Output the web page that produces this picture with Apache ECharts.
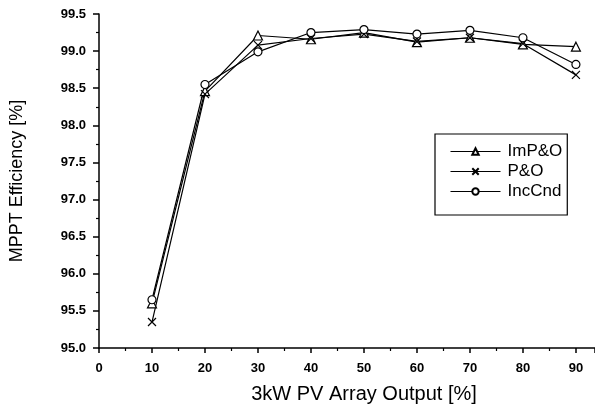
<!DOCTYPE html>
<html><head><meta charset="utf-8">
<script src="https://cdn.jsdelivr.net/npm/echarts@6/dist/echarts.min.js"></script>
<style>html,body{margin:0;padding:0;background:#fff}#c{width:595px;height:409px}</style>
</head><body><div id="c"></div>
<script>
const xValues = [10, 20, 30, 40, 50, 60, 70, 80, 90];
const impo = [95.60, 98.46, 99.21, 99.16, 99.25, 99.12, 99.18, 99.09, 99.06];
const po = [95.35, 98.42, 99.08, 99.17, 99.23, 99.13, 99.18, 99.10, 98.68];
const inccnd = [95.65, 98.55, 98.99, 99.25, 99.29, 99.23, 99.28, 99.18, 98.82];
const seriesNames = ['ImP&O', 'P&O', 'IncCnd'];
const crossPath = 'path://M0,0L10,10M10,0L0,10';

function pts(arr){ return xValues.map((x,i)=>[x, arr[i]]); }
const font = 'Liberation Sans, Arial, sans-serif';
const chart = echarts.init(document.getElementById('c'), null, {renderer:'canvas'});
function mk(name, data, symbol, size){
  return {name, type:'line', data:pts(data), symbol, symbolSize:size,
    lineStyle:{color:'#000', width:1.2}, itemStyle:{color:'#fff', borderColor:'#000', borderWidth:1.2},
    emphasis:{disabled:true}, animation:false, z: 3};
}
chart.setOption({
  animation:false,
  backgroundColor:'#fff',
  grid:{left:96, right:0, top:14, bottom:61},
  legend:{
    orient:'vertical', left:435, top:134,
    padding:[9,5,15,15], itemGap:3, itemWidth:50, itemHeight:8,
    borderColor:'#000', borderWidth:1.2,
    lineStyle:{width:1},
    textStyle:{fontFamily:font, fontSize:17, color:'#000', padding:[0,0,0,2]},
    data:seriesNames
  },
  xAxis:{type:'value', min:0, max:93.6, interval:10,
    axisLine:{lineStyle:{color:'#000', width:1.5}},
    axisTick:{show:true, inside:false, length:5, lineStyle:{color:'#000', width:1.5}},
    minorTick:{show:true, splitNumber:2, length:3, lineStyle:{color:'#000', width:1.2}},
    splitLine:{show:false},
    axisLabel:{color:'#000', fontFamily:font, fontSize:13, fontWeight:'bold', margin:14, showMaxLabel:false},
    name:'3kW PV Array Output [%]', nameLocation:'middle', nameGap:36,
    nameTextStyle:{color:'#000', fontFamily:font, fontSize:20, padding:[0,0,0,34]}
  },
  yAxis:{type:'value', min:95.0, max:99.5, interval:0.5,
    axisLine:{show:true, lineStyle:{color:'#000', width:1.5}},
    axisTick:{show:true, inside:false, length:6, lineStyle:{color:'#000', width:1.5}},
    minorTick:{show:true, splitNumber:2, length:3, lineStyle:{color:'#000', width:1.2}},
    splitLine:{show:false},
    axisLabel:{color:'#000', fontFamily:font, fontSize:13, fontWeight:'bold', margin:13, formatter:v=>v.toFixed(1)},
    name:'MPPT Efficiency [%]', nameLocation:'middle', nameGap:73,
    nameTextStyle:{color:'#000', fontFamily:font, fontSize:18}
  },
  series:[
    mk(seriesNames[0], impo, 'triangle', 9),
    mk(seriesNames[1], po, crossPath, 8),
    mk(seriesNames[2], inccnd, 'circle', 8)
  ]
});
</script></body></html>
